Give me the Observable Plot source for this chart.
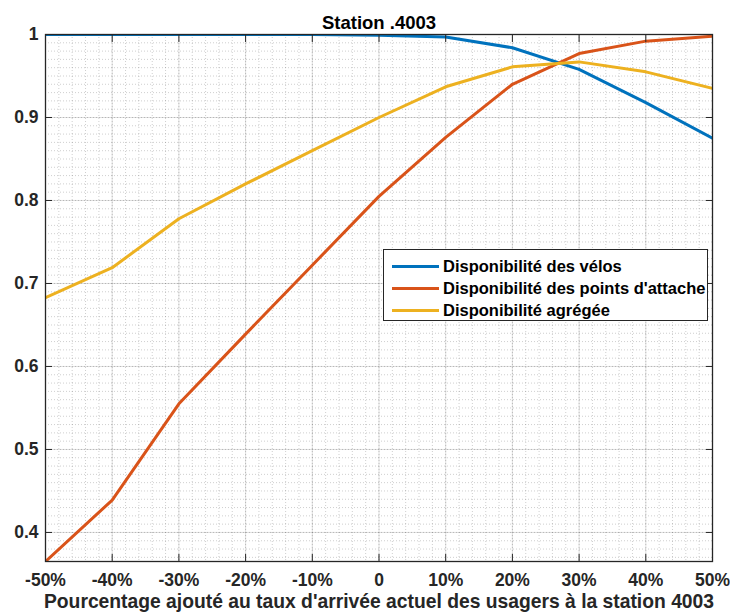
<!DOCTYPE html>
<html>
<head>
<meta charset="utf-8">
<script src="https://cdn.jsdelivr.net/npm/d3@7"></script>
<script src="https://cdn.jsdelivr.net/npm/@observablehq/plot@0.6"></script>
<style>
  html, body { margin: 0; padding: 0; background: #fff; }
  #wrap { position: relative; width: 730px; height: 614px; }
  #legend {
    position: absolute; left: 383px; top: 249px; width: 325px; height: 72px;
    border: 1px solid #262626; background: #fff; box-sizing: border-box;
    font-family: "Liberation Sans", Arial, sans-serif; font-weight: bold; font-size: 16.5px; color: #000;
    padding-top: 5px;
  }
  .row { display: flex; align-items: center; height: 22px; }
  .sw { width: 47px; height: 3px; margin-left: 8px; margin-right: 4px; }
</style>
</head>
<body>
<div id="wrap"></div>
<script>
const title = "Station .4003";
const xLabel = "Pourcentage ajouté au taux d'arrivée actuel des usagers à la station 4003";
const xs = [-50, -40, -30, -20, -10, 0, 10, 20, 30, 40, 50];
const seriesNames = ["Disponibilité des vélos", "Disponibilité des points d'attache", "Disponibilité agrégée"];
const seriesColors = ["#0072BD", "#D95319", "#EDB120"];
const velos   = [1, 1, 1, 1, 1, 0.999, 0.997, 0.984, 0.958, 0.918, 0.875];
const attache = [0.365, 0.439, 0.555, 0.639, 0.722, 0.805, 0.876, 0.940, 0.977, 0.992, 0.998];
const agregee = [0.683, 0.719, 0.778, 0.820, 0.860, 0.900, 0.937, 0.961, 0.967, 0.955, 0.935];
const xTicks = [-50, -40, -30, -20, -10, 0, 10, 20, 30, 40, 50];
const yTicks = [0.4, 0.5, 0.6, 0.7, 0.8, 0.9, 1];
const xMinor = d3.range(-50, 50.001, 2);
const yMinor = d3.range(37, 101, 1).map(v => v / 100);

const allSeries = [velos, attache, agregee];
const data = [];
allSeries.forEach((vals, i) => vals.forEach((v, j) => data.push({x: xs[j], y: v, s: seriesNames[i]})));

const xFmt = d => d === 0 ? "0" : `${d}%`;
const yFmt = d => d === 1 ? "1" : d.toFixed(1);
const axisColor = "#262626";

const plot = Plot.plot({
  width: 730,
  height: 614,
  marginLeft: 45,
  marginRight: 18,
  marginTop: 34,
  marginBottom: 53,
  style: {fontFamily: "'Liberation Sans', Arial, sans-serif", fontSize: "17px", fontWeight: "bold", color: axisColor, background: "#fff"},
  x: {domain: [-50, 50]},
  y: {domain: [0.365, 1]},
  color: {domain: seriesNames, range: seriesColors},
  marks: [
    Plot.gridX(xMinor, {stroke: axisColor, strokeOpacity: 0.22, strokeDasharray: "1,2"}),
    Plot.gridY(yMinor, {stroke: axisColor, strokeOpacity: 0.22, strokeDasharray: "1,2"}),
    Plot.gridX(xTicks, {stroke: axisColor, strokeOpacity: 0.15}),
    Plot.gridY(yTicks, {stroke: axisColor, strokeOpacity: 0.15}),
    Plot.line(data, {x: "x", y: "y", z: "s", stroke: "s", strokeWidth: 3, clip: true}),
    Plot.frame({stroke: axisColor, strokeWidth: 1.3}),
    Plot.axisX(xTicks, {anchor: "bottom", tickSize: -7, tickFormat: () => "", label: null, stroke: axisColor}),
    Plot.axisX(xTicks, {anchor: "top", tickSize: -7, tickFormat: () => "", label: null, stroke: axisColor}),
    Plot.axisY(yTicks, {anchor: "left", tickSize: -7, tickFormat: () => "", label: null, stroke: axisColor}),
    Plot.axisY(yTicks, {anchor: "right", tickSize: -7, tickFormat: () => "", label: null, stroke: axisColor}),
    Plot.axisX(xTicks, {anchor: "bottom", tickSize: 0, tickPadding: 12, tickFormat: xFmt, label: null, fill: axisColor, fontSize: 17.5, fontWeight: "bold"}),
    Plot.axisY(yTicks, {anchor: "left", tickSize: 0, tickPadding: 7, tickFormat: yFmt, label: null, fill: axisColor, fontSize: 17.5, fontWeight: "bold"}),
    Plot.text([title], {frameAnchor: "top", lineAnchor: "bottom", dy: -6, text: d => d, fontSize: 18.5, fontWeight: "bold", fill: "#000"}),
    Plot.text([xLabel], {frameAnchor: "bottom", lineAnchor: "bottom", dy: 46, text: d => d, fontSize: 19.3, fontWeight: "bold", fill: axisColor})
  ]
});

const wrap = document.getElementById("wrap");
wrap.appendChild(plot);
const legend = document.createElement("div");
legend.id = "legend";
seriesNames.forEach((n, i) => {
  const row = document.createElement("div");
  row.className = "row";
  const sw = document.createElement("div");
  sw.className = "sw";
  sw.style.background = seriesColors[i];
  const t = document.createElement("span");
  t.textContent = n;
  row.appendChild(sw); row.appendChild(t);
  legend.appendChild(row);
});
wrap.appendChild(legend);
</script>
</body>
</html>
